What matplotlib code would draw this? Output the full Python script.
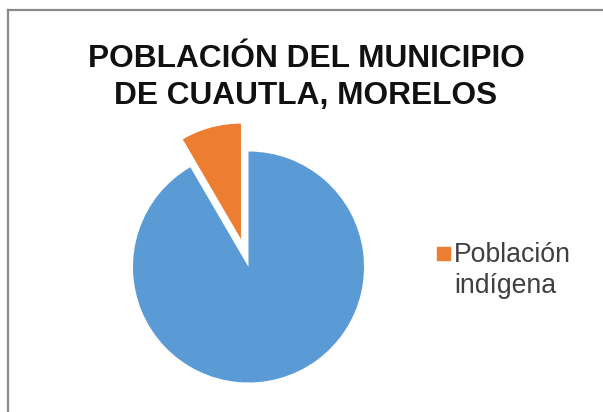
import matplotlib.pyplot as plt
from matplotlib.lines import Line2D
from matplotlib.patches import Rectangle

plt.rcParams['font.family'] = ['Liberation Sans', 'DejaVu Sans']

categories = ['Población no indígena', 'Población indígena']
values = [91.6, 8.4]
colors = ['#5B9BD5', '#ED7D31']
explode = [0, 0.25]
title_lines = ['POBLACIÓN DEL MUNICIPIO', 'DE CUAUTLA, MORELOS']
legend_label = ['Población', 'indígena']

W, H = 603, 412
fig = plt.figure(figsize=(W / 100, H / 100), dpi=100)


def fx(px):
    return px / W


def fy(py):
    return 1 - py / H


# grey frame, only top and left edges show
fig.add_artist(Line2D([fx(8), fx(8)], [0, fy(10)], color='#8a8a8a', lw=1.6))
fig.add_artist(Line2D([fx(8), 1], [fy(10), fy(10)], color='#8a8a8a', lw=1.6))

fig.text(fx(306), fy(67), title_lines[0], ha='center', va='baseline',
         fontsize=22.8, fontweight='bold', color='#111111')
fig.text(fx(305.5), fy(104), title_lines[1], ha='center', va='baseline',
         fontsize=22.8, fontweight='bold', color='#111111')

# pie: center ~ (248.5, 267) px, radius ~115.5 px
r = 115.5
cx, cy = 248.5, 267
pad = 1.35
ax = fig.add_axes([fx(cx - r * pad), fy(cy + r * pad), 2 * r * pad / W, 2 * r * pad / H])
ax.pie(values, colors=colors, explode=explode, startangle=90, counterclock=False,
       radius=1, wedgeprops=dict(linewidth=0))
ax.set_xlim(-pad, pad)
ax.set_ylim(-pad, pad)
ax.set_aspect('equal')
ax.axis('off')

# legend (only the indigenous slice is listed)
fig.add_artist(Rectangle((fx(437), fy(260)), 13 / W, 13 / H, color=colors[1],
                         transform=fig.transFigure))
fig.text(fx(454), fy(262), legend_label[0], ha='left', va='baseline',
         fontsize=19.2, color='#404040')
fig.text(fx(454), fy(293), legend_label[1], ha='left', va='baseline',
         fontsize=19.2, color='#404040')

fig.savefig('out.png', dpi=100)
